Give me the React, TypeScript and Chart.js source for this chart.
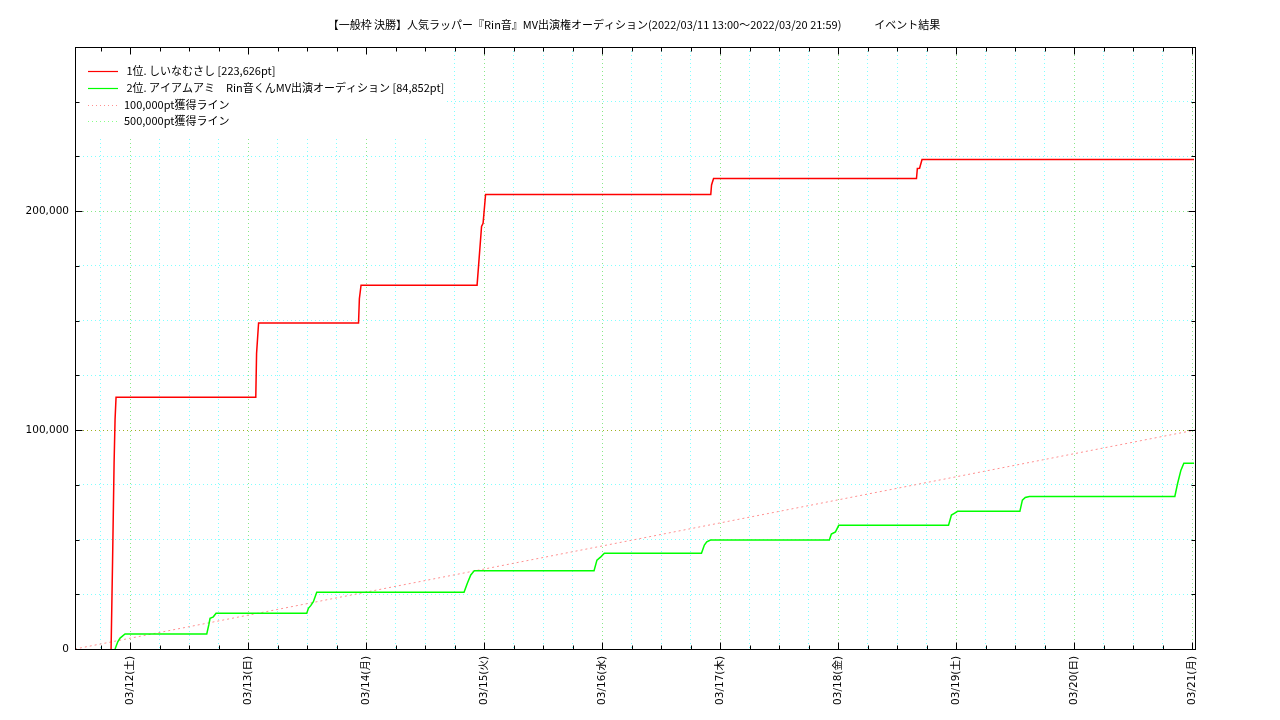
import React, { useEffect, useRef } from 'react';
import { Chart, registerables } from 'chart.js';

Chart.register(...registerables);

// ---- data ----
const TITLE = '【一般枠 決勝】人気ラッパー『Rin音』MV出演権オーディション(2022/03/11 13:00〜2022/03/20 21:59)　　　イベント結果';

// x values are hours since 2022/03/11 00:00
const X_MIN = 12.8;
const X_MAX = 240.6;
const Y_MAX = 275000;

const DAY_HOURS = [24, 48, 72, 96, 120, 144, 168, 192, 216, 240];
const DAY_LABELS = ['03/12(土)', '03/13(日)', '03/14(月)', '03/15(火)', '03/16(水)', '03/17(木)', '03/18(金)', '03/19(土)', '03/20(日)', '03/21(月)'];

const SERIES_LABELS = [
  ' 1位. しいなむさし [223,626pt]',
  ' 2位. アイアムアミ　Rin音くんMV出演オーディション [84,852pt]',
  '100,000pt獲得ライン',
  '500,000pt獲得ライン',
];

const RED_HOURS = [20.14, 20.44, 20.75, 20.95, 21.15, 49.57, 49.73, 50.14, 70.47, 70.64, 70.98, 94.58, 94.88, 95.49, 95.8, 96.31, 142.11, 142.27, 142.68, 183.95, 184.13, 184.58, 185.08, 240.41];
const RED_POINTS = [0, 40000, 85000, 105000, 115000, 115000, 135000, 148900, 148900, 160000, 166200, 166200, 175000, 193000, 194500, 207600, 207600, 212000, 214900, 214900, 219500, 219600, 223626, 223626];

const GREEN_HOURS = [20.95, 21.5, 21.97, 22.98, 39.6, 40.01, 40.27, 40.94, 41.49, 59.94, 60.27, 60.75, 61.28, 61.97, 91.93, 92.6, 93.3, 94.03, 118.37, 118.96, 119.8, 120.47, 140.22, 140.81, 141.3, 142.05, 166.23, 166.64, 167.47, 168.14, 190.47, 191.06, 191.65, 192.3, 204.98, 205.49, 206.08, 206.91, 236.5, 237.07, 237.74, 238.33, 240.41];
const GREEN_POINTS = [0, 3300, 5000, 6850, 6850, 11000, 14000, 14700, 16300, 16300, 18600, 19800, 21600, 25900, 25900, 30000, 33800, 35800, 35800, 40600, 42200, 43700, 43700, 47500, 49000, 49800, 49800, 52500, 53500, 56500, 56500, 61200, 62000, 62900, 62900, 68000, 69200, 69700, 69700, 75700, 81700, 84852, 84852];

const PACE100_HOURS = [12.8, 240.6];
const PACE100_POINTS = [0, 100000];
const PACE500_HOURS: number[] = [];
const PACE500_POINTS: number[] = [];

const Y_TICKS: number[] = [];
for (let v = 0; v <= 250000; v += 25000) Y_TICKS.push(v);
const X_TICKS: number[] = [];
for (let h = 18; h <= 240; h += 6) X_TICKS.push(h);

const COLORS = ['#ff0000', '#00ff00', '#ff9090', '#88ff88'];

const CJK = "'Noto Sans CJK JP', 'Noto Sans', sans-serif";
const TICK_FONT = "'DejaVu Sans', 'Noto Sans CJK JP', sans-serif";

const GRID_CYAN = '#80ffff';
const GRID_GREEN = '#88e888';
const GRID_OLIVE = '#a0b020';

const toXY = (xs: number[], ys: number[]) => xs.map((x, i) => ({ x, y: ys[i] }));

const framePlugin = {
  id: 'frame',
  beforeDatasetsDraw(chart: any) {
    const { ctx, chartArea: a } = chart;
    ctx.save();
    // opaque key box (no border)
    ctx.fillStyle = '#ffffff';
    ctx.fillRect(a.left + 1, a.top + 1, 370, 89);
    const rows = [71, 88, 104.5, 121];
    const ds = chart.data.datasets;
    ctx.font = `11px ${CJK}`;
    ctx.textBaseline = 'middle';
    ctx.textAlign = 'left';
    rows.forEach((y, i) => {
      const d = ds[i];
      ctx.beginPath();
      ctx.strokeStyle = d.borderColor;
      ctx.lineWidth = i < 2 ? 1.2 : 1;
      ctx.setLineDash(i < 2 ? [] : [1, 3]);
      ctx.moveTo(88, Math.round(y) + 0.5);
      ctx.lineTo(118, Math.round(y) + 0.5);
      ctx.stroke();
      ctx.setLineDash([]);
      ctx.fillStyle = '#000';
      ctx.fillText(d.label, 124, y);
    });
    ctx.restore();
  },
  afterDraw(chart: any) {
    const { ctx, chartArea: a, scales } = chart;
    ctx.save();
    ctx.strokeStyle = '#000';
    ctx.lineWidth = 1;
    ctx.setLineDash([]);
    const L = Math.round(a.left) + 0.5;
    const R = Math.round(a.right) + 0.5;
    const T = Math.round(a.top) + 0.5;
    const B = Math.round(a.bottom) + 0.5;
    ctx.strokeRect(L, T, R - L, B - T);
    ctx.beginPath();
    scales.y.ticks.forEach((t: any) => {
      if (t.value === 0) return;
      const p = Math.round(scales.y.getPixelForValue(t.value)) + 0.5;
      const len = t.value % 100000 === 0 ? 7 : 4;
      ctx.moveTo(L, p); ctx.lineTo(L + len, p);
      ctx.moveTo(R, p); ctx.lineTo(R - len, p);
    });
    scales.x.ticks.forEach((t: any) => {
      const p = Math.round(scales.x.getPixelForValue(t.value)) + 0.5;
      const len = DAY_HOURS.includes(t.value) ? 7 : 4;
      ctx.moveTo(p, B); ctx.lineTo(p, B - len);
      ctx.moveTo(p, T); ctx.lineTo(p, T + len);
    });
    ctx.stroke();
    // title
    ctx.fillStyle = '#000';
    ctx.font = `11px ${CJK}`;
    ctx.textAlign = 'center';
    ctx.textBaseline = 'middle';
    ctx.fillText(TITLE, (a.left + a.right) / 2 - 1, 25);
    ctx.restore();
  },
};

export default function App() {
  const ref = useRef<HTMLCanvasElement>(null);
  useEffect(() => {
    const chart = new Chart(ref.current as HTMLCanvasElement, {
      type: 'line',
      data: {
        datasets: [
          { label: SERIES_LABELS[0], data: toXY(RED_HOURS, RED_POINTS), borderColor: COLORS[0], borderWidth: 1.5, pointRadius: 0, tension: 0, fill: false },
          { label: SERIES_LABELS[1], data: toXY(GREEN_HOURS, GREEN_POINTS), borderColor: COLORS[1], borderWidth: 1.5, pointRadius: 0, tension: 0, fill: false },
          { label: SERIES_LABELS[2], data: toXY(PACE100_HOURS, PACE100_POINTS), borderColor: COLORS[2], borderWidth: 1, borderDash: [2, 3], pointRadius: 0, tension: 0, fill: false },
          { label: SERIES_LABELS[3], data: toXY(PACE500_HOURS, PACE500_POINTS), borderColor: COLORS[3], borderWidth: 1, borderDash: [2, 3], pointRadius: 0, tension: 0, fill: false },
        ],
      },
      options: {
        animation: false,
        responsive: false,
        devicePixelRatio: 1,
        layout: { padding: { top: 47, right: 85, left: 0, bottom: 0 } },
        plugins: { legend: { display: false }, title: { display: false }, tooltip: { enabled: false } },
        scales: {
          x: {
            type: 'linear',
            min: X_MIN,
            max: X_MAX,
            afterBuildTicks: (s: any) => { s.ticks = X_TICKS.map((v) => ({ value: v })); },
            afterFit: (s: any) => { s.height = 71; },
            grid: {
              drawTicks: false,
              lineWidth: 1,
              color: (c: any) => (c.tick && DAY_HOURS.includes(c.tick.value) ? GRID_GREEN : GRID_CYAN),
            },
            border: { display: false, dash: [1, 3] },
            ticks: {
              autoSkip: false,
              maxRotation: 90,
              minRotation: 90,
              padding: 7,
              color: '#000',
              font: { family: TICK_FONT, size: 10.5 },
              callback: (v: any) => {
                const i = DAY_HOURS.indexOf(Number(v));
                return i >= 0 ? DAY_LABELS[i] : '';
              },
            },
          },
          y: {
            type: 'linear',
            min: 0,
            max: Y_MAX,
            afterBuildTicks: (s: any) => { s.ticks = Y_TICKS.map((v) => ({ value: v })); },
            afterFit: (s: any) => { s.width = 75; },
            grid: {
              drawTicks: false,
              lineWidth: 1,
              color: (c: any) => {
                const v = c.tick ? c.tick.value : -1;
                if (v === 100000) return GRID_OLIVE;
                if (v === 200000) return GRID_GREEN;
                return GRID_CYAN;
              },
            },
            border: { display: false, dash: [1, 3] },
            ticks: {
              autoSkip: false,
              padding: 6,
              color: '#000',
              font: { family: TICK_FONT, size: 10.5 },
              callback: (v: any) => (Number(v) % 100000 === 0 ? Number(v).toLocaleString('en-US') : ''),
            },
          },
        },
      },
      plugins: [framePlugin],
    } as any);
    return () => chart.destroy();
  }, []);
  return (
    <div style={{ position: 'fixed', left: 0, top: 0, width: 1280, height: 720, background: '#fff' }}>
      <canvas ref={ref} width={1280} height={720} style={{ display: 'block' }} />
    </div>
  );
}
